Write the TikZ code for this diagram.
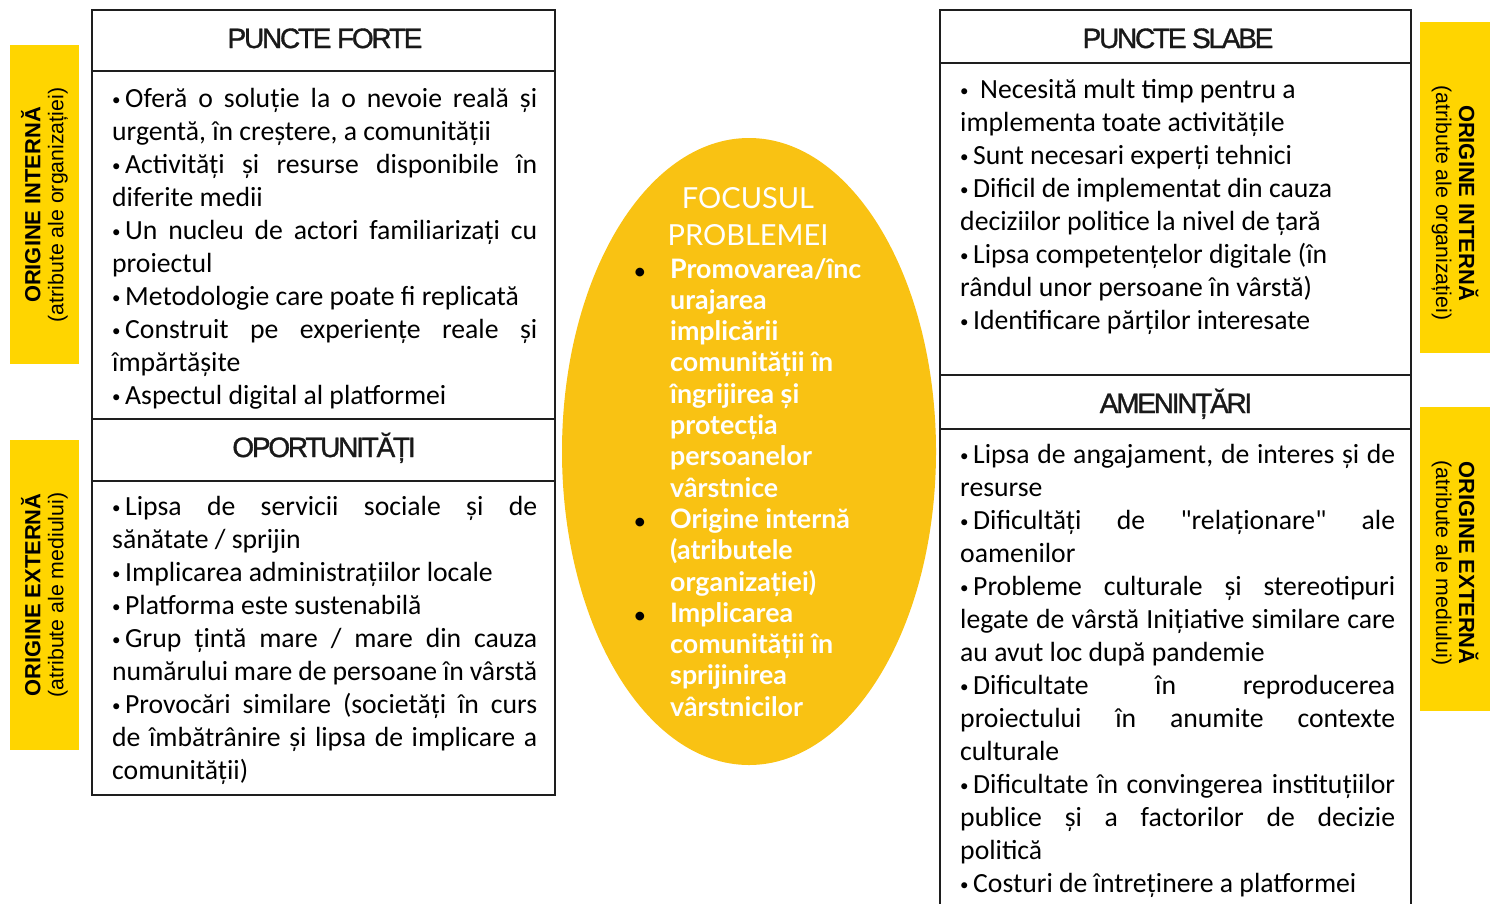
\documentclass[tikz,border=0pt]{standalone}
\usepackage{fontspec}
\setmainfont{Carlito}[Ligatures=TeXOff]
\newfontfamily\latofont{Lato}
\newfontfamily\hdrfont{Liberation Sans}[LetterSpace=-8,FakeBold=1.2]
\newfontfamily\sidefont{Liberation Sans}
\usetikzlibrary{shapes.geometric}
\definecolor{bandc}{HTML}{FFD500}
\definecolor{ovalc}{HTML}{F9C213}
\definecolor{lnc}{HTML}{1E1E1E}
\newlength\jw
\newcommand\J[1]{\makebox[\jw][s]{#1}}
\newcommand\bl{\raisebox{1.5pt}{\fontsize{17}{17}\selectfont•}\hspace{4.5pt}}
\begin{document}
\begin{tikzpicture}[x=1pt,y=-1pt,
  frame/.style={draw=lnc, line width=2pt},
  bandbox/.style={fill=bandc, draw=none, inner sep=0pt},
  hdr/.style={anchor=base, inner sep=0pt, text=black!90, font=\hdrfont\fontsize{28}{34}\selectfont},
  ln/.style={anchor=base west, inner sep=0pt, font=\fontsize{27.7}{33}\selectfont},
  side/.style={align=center, inner sep=0pt, font=\sidefont\fontsize{21.3}{23}\selectfont},
  ovtxt/.style={anchor=base west, inner sep=0pt, text=white, font=\latofont\bfseries\fontsize{26.8}{30}\selectfont},
  ovtitle/.style={anchor=base, inner sep=0pt, text=white, font=\latofont\fontsize{29}{32}\selectfont},
  bul/.style={anchor=base, inner sep=0pt, text=black, font=\latofont\bfseries\fontsize{20}{24}\selectfont}]
\useasboundingbox (0,0) rectangle (1495,903);

% yellow side bands
\node[bandbox, minimum width=69pt, minimum height=319pt] (bandLI) at (44.5,204.5) {};
\node[bandbox, minimum width=69pt, minimum height=310pt] (bandLE) at (44.5,595) {};
\node[bandbox, minimum width=70pt, minimum height=331pt] (bandRI) at (1455,187.5) {};
\node[bandbox, minimum width=70pt, minimum height=304pt] (bandRE) at (1455,559) {};

\node[side, rotate=90] (labLI) at (44.5,205) {{\bfseries\fontsize{21.9}{23}\selectfont ORIGINE INTERNĂ}\\(atribute ale organizației)};
\node[side, rotate=90] (labLE) at (44.5,595) {{\bfseries\fontsize{21.9}{23}\selectfont ORIGINE EXTERNĂ}\\(atribute ale mediului)};
\node[side, rotate=-90] (labRI) at (1455,203) {{\bfseries\fontsize{21.9}{23}\selectfont ORIGINE INTERNĂ}\\(atribute ale organizației)};
\node[side, rotate=-90] (labRE) at (1455,563) {{\bfseries\fontsize{21.9}{23}\selectfont ORIGINE EXTERNĂ}\\(atribute ale mediului)};

% central ellipse
\node[ellipse, fill=ovalc, draw=none, minimum width=374pt, minimum height=627pt, inner sep=0pt] (focus) at (749,451.5) {};

% left box
\draw[frame] (92,10) rectangle (555,795);
\coordinate (l1a) at (92,71);  \coordinate (l1b) at (555,71);
\coordinate (l2a) at (92,419); \coordinate (l2b) at (555,419);
\coordinate (l3a) at (92,481); \coordinate (l3b) at (555,481);
\draw[frame] (l1a) -- (l1b);
\draw[frame] (l2a) -- (l2b);
\draw[frame] (l3a) -- (l3b);
\node[hdr] (hPF) at (325,48) {PUNCTE FORTE};
\node[hdr] (hOP) at (324,457) {OPORTUNITĂȚI};

% right box
\draw[frame] (940,906) -- (940,10) -- (1411,10) -- (1411,906);
\coordinate (r1a) at (940,63);  \coordinate (r1b) at (1411,63);
\coordinate (r2a) at (940,375); \coordinate (r2b) at (1411,375);
\coordinate (r3a) at (940,429); \coordinate (r3b) at (1411,429);
\draw[frame] (r1a) -- (r1b);
\draw[frame] (r2a) -- (r2b);
\draw[frame] (r3a) -- (r3b);
\node[hdr] (hPS) at (1178,48) {PUNCTE SLABE};
\node[hdr] (hAM) at (1176,413) {AMENINȚĂRI};

% left top body
\setlength\jw{425pt}
\foreach \t [count=\i from 0] in {
  {\J{\bl Oferă o soluție la o nevoie reală și}},
  {urgentă, în creștere, a comunității},
  {\J{\bl Activități și resurse disponibile în}},
  {diferite medii},
  {\J{\bl Un nucleu de actori familiarizați cu}},
  {proiectul},
  {\bl Metodologie care poate fi replicată},
  {\J{\bl Construit pe experiențe reale și}},
  {împărtășite},
  {\bl Aspectul digital al platformei}}
  \node[ln] (pf\i) at (112,107+33*\i) {\t};

% left bottom body
\foreach \t [count=\i from 0] in {
  {\J{\bl Lipsa de servicii sociale și de}},
  {sănătate / sprijin},
  {\bl Implicarea administrațiilor locale},
  {\bl Platforma este sustenabilă},
  {\J{\bl Grup țintă mare / mare din cauza}},
  {\J{numărului mare de persoane în vârstă}},
  {\J{\bl Provocări similare (societăți în curs}},
  {\J{de îmbătrânire și lipsa de implicare a}},
  {comunității)}}
  \node[ln] (op\i) at (112,515+33*\i) {\t};

% right top body
\foreach \t [count=\i from 0] in {
  {\bl\hspace{7pt}Necesită mult timp pentru a},
  {implementa toate activitățile},
  {\bl Sunt necesari experți tehnici},
  {\bl Dificil de implementat din cauza},
  {deciziilor politice la nivel de țară},
  {\bl Lipsa competențelor digitale (în},
  {rândul unor persoane în vârstă)},
  {\bl Identificare părților interesate}}
  \node[ln] (ps\i) at (960,98+33*\i) {\t};

% right bottom body
\setlength\jw{435pt}
\foreach \t [count=\i from 0] in {
  {\J{\bl Lipsa de angajament, de interes și de}},
  {resurse},
  {\J{\bl Dificultăți de "relaționare" ale}},
  {oamenilor},
  {\J{\bl Probleme culturale și stereotipuri}},
  {\J{legate de vârstă Inițiative similare care}},
  {au avut loc după pandemie},
  {\J{\bl Dificultate în reproducerea}},
  {\J{proiectului în anumite contexte}},
  {culturale},
  {\J{\bl Dificultate în convingerea instituțiilor}},
  {\J{publice și a factorilor de decizie}},
  {politică},
  {\bl Costuri de întreținere a platformei}}
  \node[ln] (am\i) at (960,463+33*\i) {\t};

% ellipse text
\node[ovtitle] (ft1) at (748,208) {FOCUSUL};
\node[ovtitle] (ft2) at (748,245) {PROBLEMEI};
\foreach \t [count=\i from 0] in {
  {Promovarea/înc}, {urajarea}, {implicării}, {comunității în}, {îngrijirea și},
  {protecția}, {persoanelor}, {vârstnice}, {Origine internă}, {(atributele},
  {organizației)}, {Implicarea}, {comunității în}, {sprijinirea}, {vârstnicilor}}
  \node[ovtxt] (fl\i) at (670,278+31.3*\i) {\t};
\foreach \k in {0,8,11}
  \node[bul] (fb\k) at (640,278+31.3*\k) {•};
\end{tikzpicture}
\end{document}
